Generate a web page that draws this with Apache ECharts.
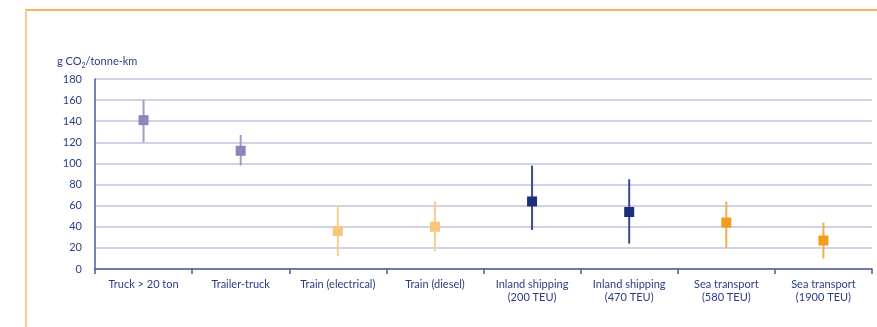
<!DOCTYPE html>
<html><head><meta charset="utf-8">
<script src="https://cdn.jsdelivr.net/npm/echarts@6/dist/echarts.min.js"></script>
<style>html,body{margin:0;padding:0;background:#fff}#c{width:877px;height:327px}</style>
</head><body><div id="c"></div>
<script>
const categories = ['Truck > 20 ton','Trailer-truck','Train (electrical)','Train (diesel)','Inland shipping\n(200 TEU)','Inland shipping\n(470 TEU)','Sea transport\n(580 TEU)','Sea transport\n(1900 TEU)'];
const means = [141, 112, 36, 40, 64, 54, 44, 27];
const lows  = [120, 98, 12, 17, 37, 24, 20, 10];
const highs = [160, 127, 60, 64, 98, 85, 64, 44];
const markerColors = ['#8e86bb','#8e86bb','#f8c67c','#f8c67c','#1b2f7d','#1b2f7d','#f39b1e','#f39b1e'];
const whiskerColors = ['#a29cc9','#a29cc9','#f9cf8f','#f9cf8f','#3a4b8e','#3a4b8e','#f5ae45','#f5ae45'];
const yTicks = [0,20,40,60,80,100,120,140,160,180];

const chart = echarts.init(document.getElementById('c'));
const labelColor = '#2c3b84';
const font = 'Lato, "Open Sans", sans-serif';
chart.setOption({
  animation: false,
  grid: {left: 95, right: 5, top: 79, bottom: 58},
  graphic: [
    {type:'line', shape:{x1:25,y1:10,x2:877,y2:10}, style:{stroke:'#f29d26', lineWidth:1.5}, z:10},
    {type:'line', shape:{x1:26,y1:10,x2:26,y2:327}, style:{stroke:'#f8cb8a', lineWidth:2}, z:10},
    {type:'text', left:57, top:56, style:{text:'{a|g CO}{s|2}{a|/tonne-km}', rich:{a:{fontSize:11,fill:labelColor,fontFamily:font}, s:{fontSize:7,fill:labelColor,fontFamily:font,padding:[8,0,0,0]}}}}
  ],
  xAxis: {
    type:'category', data: categories, boundaryGap:true,
    axisLine:{lineStyle:{color:'#4d5b9d', width:1.5}},
    axisTick:{show:true, alignWithLabel:false, length:5, lineStyle:{color:'#4d5b9d', width:1.5}},
    axisLabel:{color:labelColor, fontSize:11, fontFamily:font, margin:9, lineHeight:13, interval:0}
  },
  yAxis: {
    type:'value', min:0, max:180, interval:20,
    axisLine:{show:true, lineStyle:{color:'#4d5b9d', width:1.5}},
    axisTick:{show:false},
    axisLabel:{color:labelColor, fontSize:11, fontFamily:font, margin:13,
      formatter: v => yTicks.includes(v) ? String(v) : ''},
    splitLine:{lineStyle:{color:'#c6c1de', width:1.5}}
  },
  series: [
    {
      type:'custom',
      data: categories.map((c,i)=>[i, lows[i], highs[i]]),
      renderItem: (params, api) => {
        const i = api.value(0);
        const p1 = api.coord([i, api.value(1)]);
        const p2 = api.coord([i, api.value(2)]);
        return {type:'line', shape:{x1:p1[0],y1:p1[1],x2:p2[0],y2:p2[1]},
          style:{stroke: whiskerColors[i], lineWidth:2}};
      },
      z: 2
    },
    {
      type:'scatter',
      data: means.map((v,i)=>({value:[i, v], itemStyle:{color: markerColors[i], opacity:1}})),
      itemStyle:{opacity:1},
      symbol:'rect', symbolSize:10, z:3
    }
  ]
});
</script></body></html>
